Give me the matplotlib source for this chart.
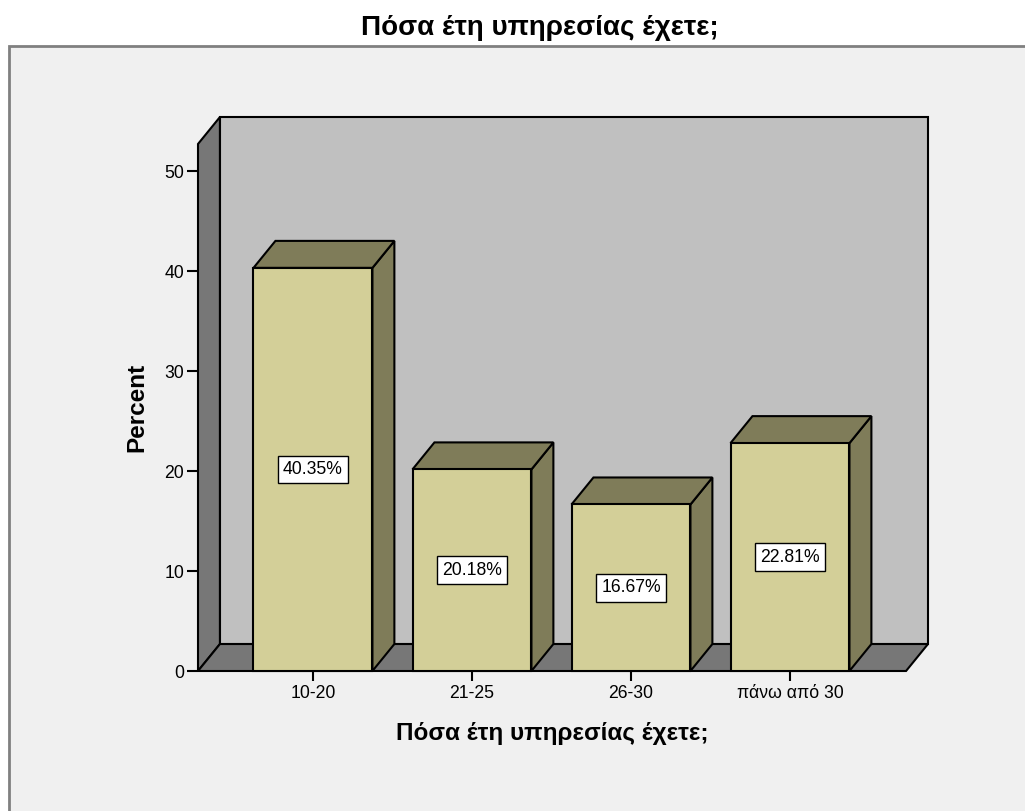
import matplotlib.pyplot as plt
from matplotlib.patches import Polygon, Rectangle

plt.rcParams['font.family'] = ['Liberation Sans', 'DejaVu Sans']

# 'Πόσα έτη υπηρεσίας έχετε;' - percentages per category
categories = ['10-20', '21-25', '26-30', 'πάνω από 30']
percents = [40.35, 20.18, 16.67, 22.81]
yticks = [0, 10, 20, 30, 40, 50]
title = 'Πόσα έτη υπηρεσίας έχετε;'

FRONT = '#d3cf98'
SHADE = '#7f7c59'
WALL = '#c0c0c0'
SIDE = '#777777'
BG = '#f0f0f0'

fig = plt.figure(figsize=(10.25, 8.11), dpi=100)
fig.patch.set_facecolor('white')

# grey panel with a frame on the top/left edges
panel = Rectangle((9 / 1025, -0.05), 1.1, 1 - 46 / 811 + 0.05,
                  transform=fig.transFigure, facecolor=BG,
                  edgecolor='#808080', linewidth=2, zorder=-10)
fig.add_artist(panel)
fig.text(540 / 1025, 1 - 28 / 811, title, ha='center', va='center',
         fontsize=20, fontweight='bold')

ax = fig.add_axes([198 / 1025, 1 - 671 / 811, 730 / 1025, 554 / 811])
ax.set_facecolor('none')
x0, x1 = -0.723, 3.868
ytop = 55.45
ax.set_xlim(x0, x1)
ax.set_ylim(0, ytop)
for s in ax.spines.values():
    s.set_visible(False)

# depth of the 3-D effect in data units
dx, dy = 0.138, 2.7
ec = dict(edgecolor='black', linewidth=1.5, joinstyle='miter')

# left wall, back wall, floor
ax.add_patch(Polygon([(x0, 0), (x0 + dx, dy), (x0 + dx, ytop), (x0, ytop - dy)],
                     closed=True, facecolor=SIDE, clip_on=False, **ec))
ax.add_patch(Polygon([(x0 + dx, dy), (x1, dy), (x1, ytop), (x0 + dx, ytop)],
                     closed=True, facecolor=WALL, clip_on=False, **ec))
ax.add_patch(Polygon([(x0, 0), (x1 - dx, 0), (x1, dy), (x0 + dx, dy)],
                     closed=True, facecolor=SIDE, clip_on=False, **ec))

w = 0.748
for i, v in enumerate(percents):
    l, r = i - w / 2, i + w / 2
    ax.add_patch(Polygon([(r, 0), (r + dx, dy), (r + dx, v + dy), (r, v)],
                         closed=True, facecolor=SHADE, clip_on=False, **ec))
    ax.add_patch(Polygon([(l, v), (r, v), (r + dx, v + dy), (l + dx, v + dy)],
                         closed=True, facecolor=SHADE, clip_on=False, **ec))
    ax.add_patch(Rectangle((l, 0), w, v, facecolor=FRONT, clip_on=False, **ec))
    ax.text(i, v / 2, f'{v:.2f}%', ha='center', va='center', fontsize=12.7,
            bbox=dict(boxstyle='square,pad=0.3', facecolor='white',
                      edgecolor='black', linewidth=1))

ax.set_yticks(yticks)
ax.set_yticklabels([str(t) for t in yticks])
ax.set_xticks(range(len(categories)))
ax.set_xticklabels(categories)
ax.tick_params(axis='y', direction='out', length=8, width=1.5, labelsize=12.7,
               pad=2, colors='black')
ax.tick_params(axis='x', direction='out', length=7, width=1.5, labelsize=12.7,
               pad=3, colors='black')
ax.set_ylabel('Percent', fontsize=17.5, fontweight='bold')
ax.set_xlabel(title, fontsize=17.5, fontweight='bold')
# axis titles are centred on the front of the box, not the whole axes
ax.yaxis.set_label_coords(-0.068, 0.475)
ax.xaxis.set_label_coords(0.485, -0.092)

fig.savefig('out.png', dpi=100)
